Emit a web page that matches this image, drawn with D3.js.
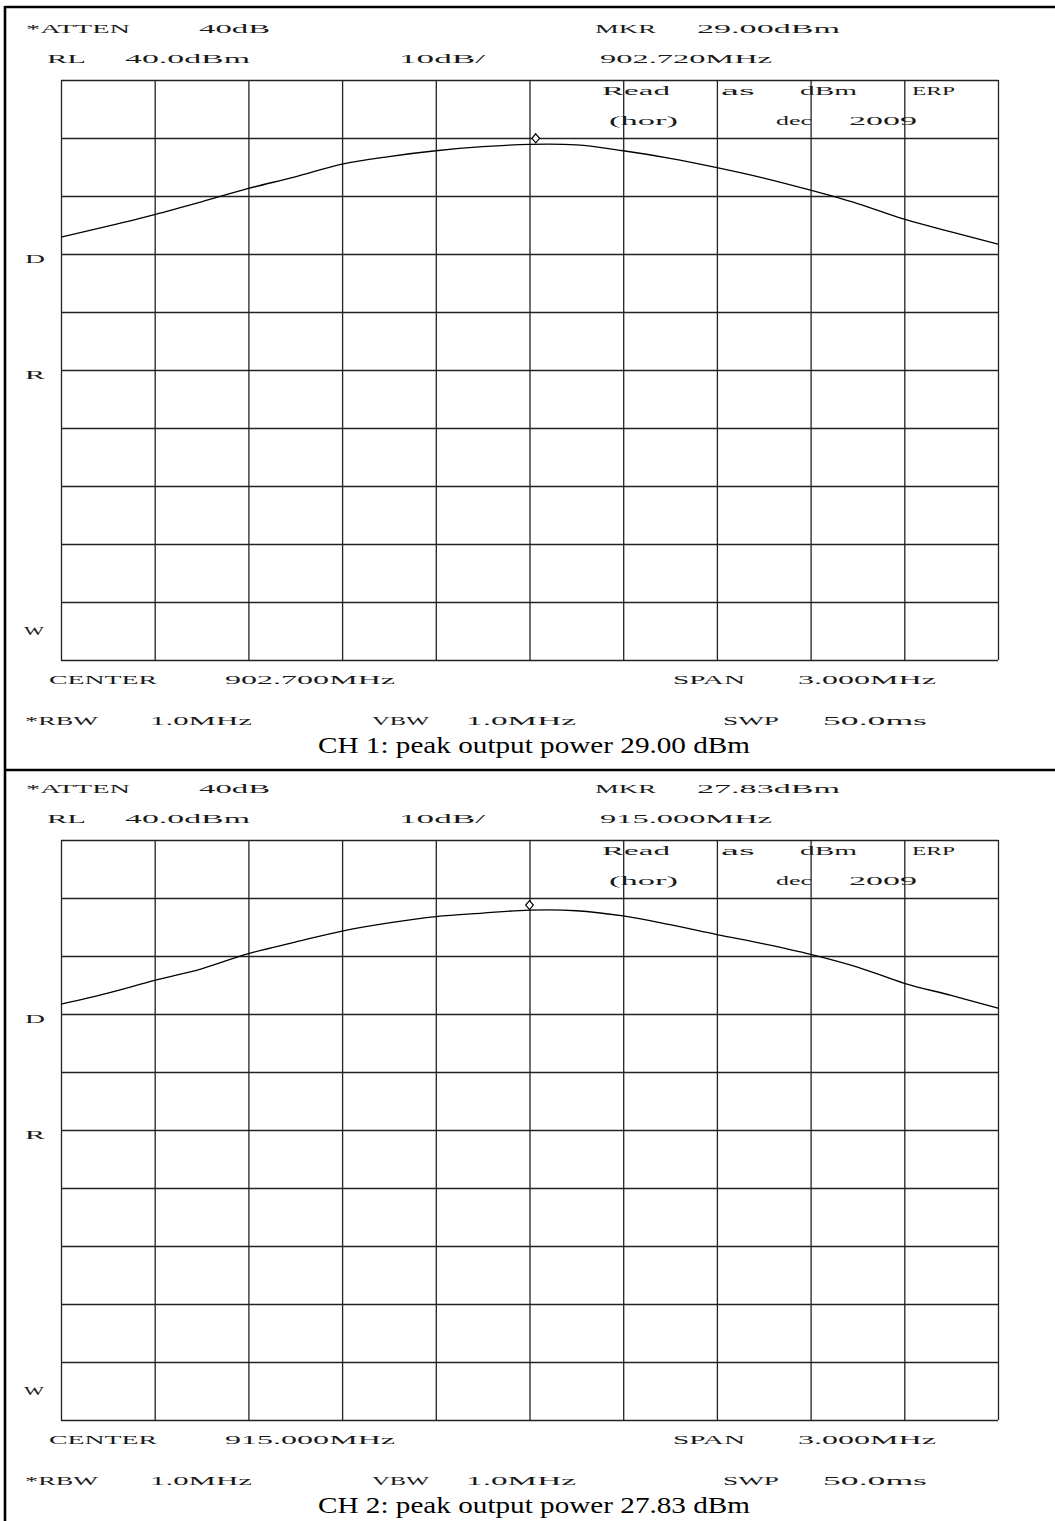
<!DOCTYPE html>
<html>
<head>
<meta charset="utf-8">
<script src="https://cdn.jsdelivr.net/npm/d3@7"></script>
<style>
  body { margin: 0; background: #fff; }
  svg { display: block; }
</style>
</head>
<body>
<div id="chart"></div>
<script>
// trace, every half division (offset from centre, MHz)
const traceOffsets = [-1.5, -1.35, -1.2, -1.05, -0.9, -0.75, -0.6, -0.45, -0.3, -0.15, 0,
  0.15, 0.3, 0.45, 0.6, 0.75, 0.9, 1.05, 1.2, 1.35, 1.5];
const trace1 = [12.9, 14.8, 16.8, 19.0, 21.3, 23.3, 25.5, 26.8, 27.8, 28.5, 28.9,
  28.8, 27.8, 26.5, 24.9, 23.1, 21.0, 18.7, 16.0, 13.8, 11.7];
const trace2 = [11.7, 13.6, 15.8, 17.8, 20.4, 22.4, 24.3, 25.7, 26.8, 27.4, 27.9,
  27.8, 26.9, 25.4, 23.7, 22.1, 20.3, 18.1, 15.3, 13.2, 11.0];

const centerFreqs = [902.7, 915.0];
const markerFreqs = [902.72, 915.0];
const markerLevels = [29.0, 27.83];
const channelNames = ["CH 1", "CH 2"];

const refLevel = 40;   // dBm, top of screen
const dbPerDiv = 10;
const spanMHz = 3;

const settingLabels = ["*ATTEN", "40dB", "MKR", "RL", "40.0dBm", "10dB/"];
const noteLabels = ["Read", "as", "dBm", "ERP", "(hor)", "dec", "2009"];
const footerLabels = ["CENTER", "SPAN", "3.000MHz", "*RBW", "1.0MHz", "VBW", "1.0MHz", "SWP", "50.0ms"];
const sideLetters = ["D", "R", "W"];

const W = 1055, H = 1521;
const panelStep = 760;
const plot = { left: 61, right: 998, top: 80, bottom: 660 };
const fontPlotter = "'Liberation Serif', 'DejaVu Serif', serif";

const svg = d3.select("#chart").append("svg")
  .attr("width", W).attr("height", H);

// table borders
svg.append("line").attr("x1", 5).attr("x2", W).attr("y1", 7).attr("y2", 7)
  .attr("stroke", "#000").attr("stroke-width", 2.4);
svg.append("line").attr("x1", 5).attr("x2", 5).attr("y1", 6).attr("y2", H)
  .attr("stroke", "#000").attr("stroke-width", 2.6);
svg.append("line").attr("x1", 5).attr("x2", W).attr("y1", 770).attr("y2", 770)
  .attr("stroke", "#000").attr("stroke-width", 2.6);

function drawPanel(i, trace) {
  const g = svg.append("g").attr("transform", "translate(0," + (i * panelStep) + ")");

  var x = d3.scaleLinear().domain([-spanMHz / 2, spanMHz / 2]).range([plot.left, plot.right]);
  var y = d3.scaleLinear().domain([refLevel - 10 * dbPerDiv, refLevel]).range([plot.bottom, plot.top]);

  // grid
  var xTicks = d3.range(11).map(function (k) { return -spanMHz / 2 + k * spanMHz / 10; });
  var yTicks = d3.range(11).map(function (k) { return refLevel - k * dbPerDiv; });

  g.append("g")
    .attr("transform", "translate(0," + plot.bottom + ")")
    .call(d3.axisBottom(x).tickValues(xTicks).tickSize(-(plot.bottom - plot.top)).tickFormat(""))
    .call(function (a) { a.select(".domain").remove(); })
    .selectAll("line").attr("stroke", "#222").attr("stroke-width", 1.3);

  g.append("g")
    .attr("transform", "translate(" + plot.left + ",0)")
    .call(d3.axisLeft(y).tickValues(yTicks).tickSize(-(plot.right - plot.left)).tickFormat(""))
    .call(function (a) { a.select(".domain").remove(); })
    .selectAll("line").attr("stroke", "#222").attr("stroke-width", 1.3);

  // trace
  var line = d3.line()
    .x(function (d, k) { return x(traceOffsets[k]); })
    .y(function (d) { return y(d); })
    .curve(d3.curveCatmullRom.alpha(0.5));
  g.append("path").datum(trace)
    .attr("d", line)
    .attr("fill", "none")
    .attr("stroke", "#000")
    .attr("stroke-width", 1.3);

  // marker diamond, sits just above the trace point
  var mx = x(markerFreqs[i] - centerFreqs[i]);
  var my = y(markerLevels[i]) - 5.5;
  g.append("path")
    .attr("d", "M" + mx + "," + (my - 4.5) + "L" + (mx + 3.8) + "," + my +
      "L" + mx + "," + (my + 4.5) + "L" + (mx - 3.8) + "," + my + "Z")
    .attr("fill", "#fff").attr("stroke", "#000").attr("stroke-width", 1.2);

  // plotter annotations: [text, x start, x end, baseline]
  var texts = [
    [settingLabels[0], 26, 130, 32.5],
    [settingLabels[1], 199, 270, 32.5],
    [settingLabels[2], 595, 656, 32.5],
    [markerLevels[i].toFixed(2) + "dBm", 697, 840, 32.5],
    [settingLabels[3], 47, 86, 62.5],
    [settingLabels[4], 125, 250, 62.5],
    [settingLabels[5], 399, 485, 62.5],
    [markerFreqs[i].toFixed(3) + "MHz", 600, 772, 62.5],
    [noteLabels[0], 602, 670, 95],
    [noteLabels[1], 721, 755, 95],
    [noteLabels[2], 800, 857, 95],
    [noteLabels[3], 912, 955, 95],
    [noteLabels[4], 609, 678, 124.5],
    [noteLabels[5], 776, 812, 124.5],
    [noteLabels[6], 849, 917, 124.5],
    [footerLabels[0], 49, 157, 684],
    [centerFreqs[i].toFixed(3) + "MHz", 225, 395, 684],
    [footerLabels[1], 673, 745, 684],
    [footerLabels[2], 798, 936, 684],
    [footerLabels[3], 25, 98, 724.5],
    [footerLabels[4], 150, 252, 724.5],
    [footerLabels[5], 372, 429, 724.5],
    [footerLabels[6], 466, 576, 724.5],
    [footerLabels[7], 723, 779, 724.5],
    [footerLabels[8], 823, 927, 724.5],
    [sideLetters[0], 25, 45, y(10) + 9],
    [sideLetters[1], 25, 45, y(-10) + 9],
    [sideLetters[2], 24, 44, y(-55) + 4]
  ];

  g.selectAll("text.plotter")
    .data(texts)
    .enter()
    .append("text")
    .attr("class", "plotter")
    .attr("x", function (d) { return d[1]; })
    .attr("y", function (d) { return d[3]; })
    .attr("textLength", function (d) { return d[2] - d[1]; })
    .attr("lengthAdjust", "spacingAndGlyphs")
    .style("font-family", fontPlotter)
    .style("font-size", "13.5px")
    .style("fill", "#1a1a1a")
    .text(function (d) { return d[0]; });

  // caption below the screenshot
  g.append("text")
    .attr("x", 318)
    .attr("y", 753)
    .attr("textLength", 432)
    .attr("lengthAdjust", "spacingAndGlyphs")
    .style("font-family", "'Liberation Serif', 'Times New Roman', serif")
    .style("font-size", "23px")
    .style("fill", "#000")
    .text(channelNames[i] + ": peak output power " + markerLevels[i].toFixed(2) + " dBm");
}

drawPanel(0, trace1);
drawPanel(1, trace2);
</script>
</body>
</html>
